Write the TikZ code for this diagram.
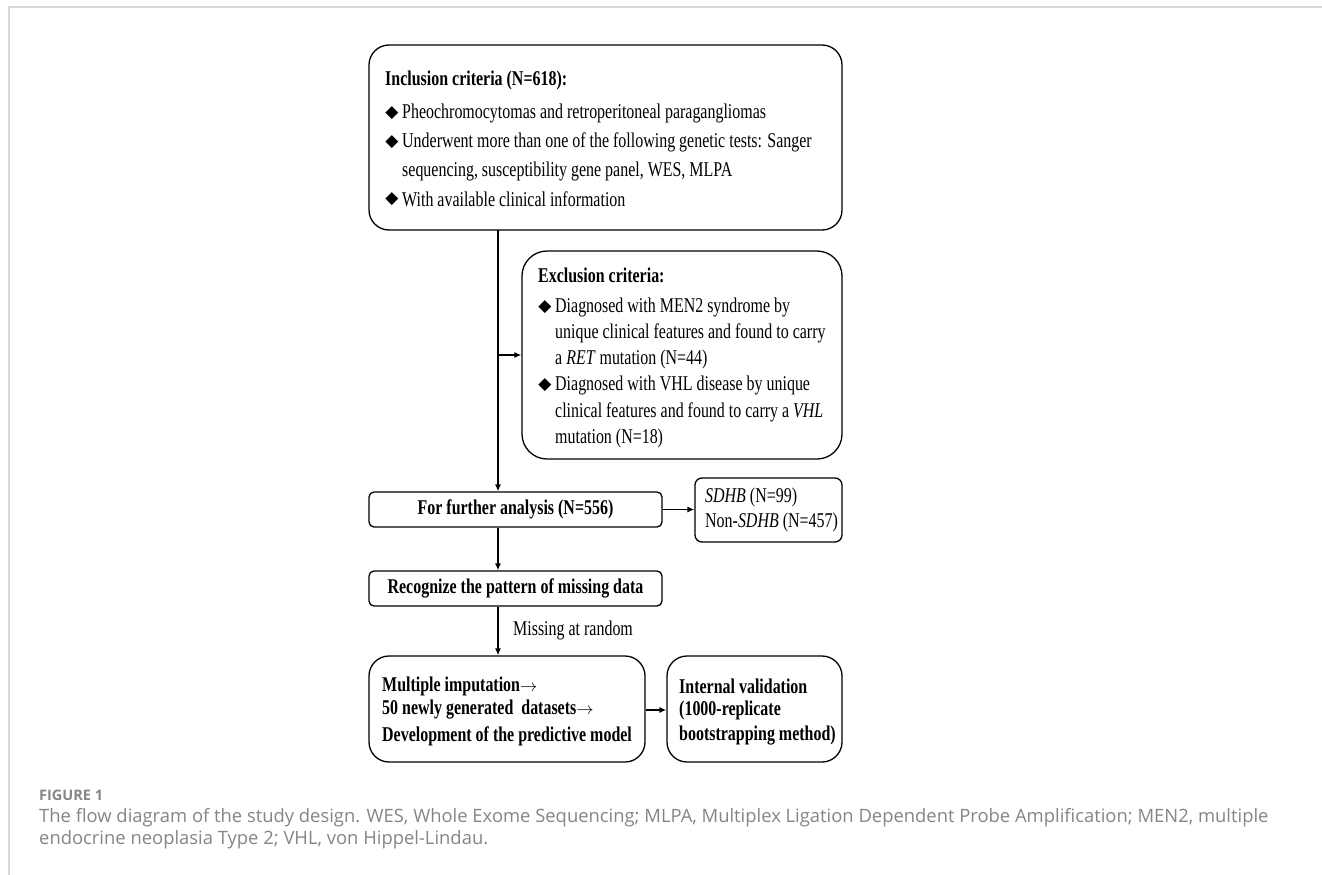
\documentclass[tikz,border=0pt]{standalone}
\usepackage{fontspec}
\setmainfont[FakeStretch=0.76]{Liberation Serif}
\newfontfamily\symfont{DejaVu Sans}
\newfontfamily\capfont{Open Sans}
\usetikzlibrary{arrows.meta}
\definecolor{capgray}{HTML}{858585}
\definecolor{framegray}{HTML}{D9D9D9}
\newcommand\tarr{{\fontsize{17}{20}\selectfont$\rightarrow$}}
\tikzset{
  box/.style={draw, line width=1.3pt, inner sep=0pt},
  txt/.style={anchor=west, inner sep=0pt, font=\fontsize{21}{24}\selectfont},
  btxt/.style={txt, font=\fontsize{21}{24}\selectfont\bfseries},
  dia/.style={inner sep=0pt, font=\symfont\fontsize{17}{19}\selectfont},
  conn/.style={line width=1.3pt},
  arr/.style={conn, -{Latex[length=7pt,width=6pt]}},
  captxt/.style={anchor=west, inner sep=0pt, text=capgray, font=\capfont\fontsize{18.4}{22}\selectfont}
}
\begin{document}
\begin{tikzpicture}[x=1pt,y=-1pt]
\useasboundingbox (0,0) rectangle (1322,875);
\draw[framegray, line width=1.5pt] (9,875) -- (9,7) -- (1322,7);

% boxes
\node[box, rounded corners=20pt, minimum width=473pt, minimum height=185pt] (inc) at (605.5,137.5) {};
\node[box, rounded corners=25pt, minimum width=320pt, minimum height=208pt] (exc) at (682,355) {};
\node[box, rounded corners=5pt, minimum width=293pt, minimum height=35pt] (fur) at (515.5,509.5) {};
\node[box, rounded corners=7pt, minimum width=147pt, minimum height=64pt] (sdhb) at (768.5,510) {};
\node[box, rounded corners=5pt, minimum width=293pt, minimum height=35pt] (rec) at (515.5,588.5) {};
\node[box, rounded corners=20pt, minimum width=276pt, minimum height=106pt] (mul) at (507,709) {};
\node[box, rounded corners=20pt, minimum width=175pt, minimum height=106pt] (int) at (754.5,709) {};

% inclusion text
\node[btxt] (incH) at (385,80) {Inclusion criteria (N=618):};
\node[dia] (incB1) at (392,113) {◆};
\node[txt] (incT1) at (402,113) {Pheochromocytomas and retroperitoneal paragangliomas};
\node[dia] (incB2) at (392,142) {◆};
\node[txt] (incT2) at (402,142) {Underwent more than one of the following genetic tests: Sanger};
\node[txt] (incT3) at (402,171) {sequencing, susceptibility gene panel, WES, MLPA};
\node[dia] (incB3) at (392,199) {◆};
\node[txt] (incT4) at (402,199) {With available clinical information};

% exclusion text
\node[btxt] (excH) at (538,275) {Exclusion criteria:};
\node[dia] (excB1) at (545,307) {◆};
\node[txt] (excT1) at (555,307) {Diagnosed with MEN2 syndrome by};
\node[txt] (excT2) at (555,333) {unique clinical features and found to carry};
\node[txt] (excT3) at (555,359) {a \textit{RET} mutation (N=44)};
\node[dia] (excB2) at (545,385) {◆};
\node[txt] (excT4) at (555,385) {Diagnosed with VHL disease by unique};
\node[txt] (excT5) at (555,412) {clinical features and found to carry a \textit{VHL}};
\node[txt] (excT6) at (555,438) {mutation (N=18)};

% further analysis
\node[btxt, anchor=center] (furT) at (fur) {For further analysis (N=556)};
\node[txt] (sdT1) at (705,497) {\textit{SDHB} (N=99)};
\node[txt] (sdT2) at (705,522) {Non-\textit{SDHB} (N=457)};

% recognize
\node[btxt, anchor=center] (recT) at (rec) {Recognize the pattern of missing data};

% multiple imputation
\node[btxt] (mulT1) at (382,686) {Multiple imputation\tarr};
\node[btxt] (mulT2) at (382,710) {50 newly generated\ \ datasets\tarr};
\node[btxt] (mulT3) at (382,736) {Development of the predictive model};

% internal validation
\node[btxt] (intT1) at (679,686) {Internal validation};
\node[btxt] (intT2) at (679,710) {(1000-replicate};
\node[btxt] (intT3) at (679,736) {bootstrapping method)};

% connectors
\coordinate (sp) at (498,230);
\draw[arr] (sp) -- (sp |- fur.north);
\draw[arr] (sp |- exc.west) -- (exc.west);
\draw[arr] (fur.east) -- (fur.east -| sdhb.west);
\draw[arr] (sp |- fur.south) -- (sp |- rec.north);
\draw[arr] (sp |- rec.south) -- (sp |- mul.north);
\node[txt] (mar) at (513,630) {Missing at random};
\draw[arr] (mul.east |- mulT2) -- (int.west |- mulT2);

% caption
\node[captxt, font=\capfont\bfseries\fontsize{14.5}{17}\selectfont] (fig) at (39,795) {FIGURE 1};
\node[captxt] (cap1) at (39,818) {The flow diagram of the study design. WES, Whole Exome Sequencing; MLPA, Multiplex Ligation Dependent Probe Amplification; MEN2, multiple};
\node[captxt] (cap2) at (39,840) {endocrine neoplasia Type 2; VHL, von Hippel-Lindau.};
\end{tikzpicture}
\end{document}
